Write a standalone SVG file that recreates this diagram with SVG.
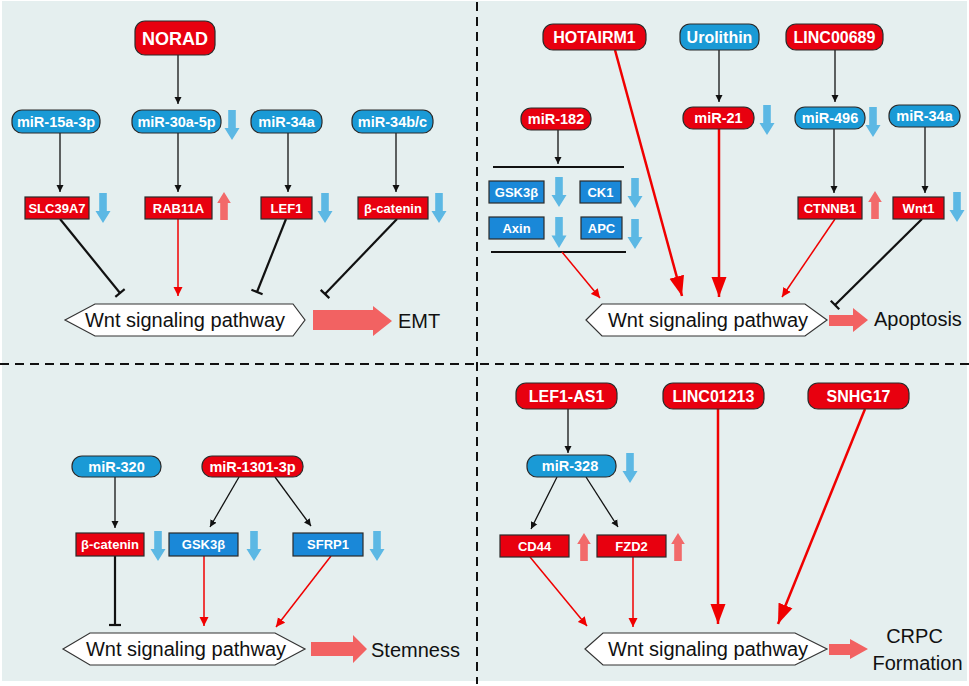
<svg xmlns="http://www.w3.org/2000/svg" width="969" height="686" viewBox="0 0 969 686">
<style>
text{font-family:"Liberation Sans",Arial,sans-serif}
.lb{font-weight:bold;fill:#fff;text-anchor:middle}
.f18{font-size:18px}.f16{font-size:16px}.f14{font-size:14.5px}.f13{font-size:13px}
.red{fill:#e8000f;stroke:#2a2a2a;stroke-width:1.2}
.blu{fill:#1a9ad6;stroke:#2a2a2a;stroke-width:1.2}
.bbox{fill:#1a88d8;stroke:#2a2a2a;stroke-width:1.2}
.hex{fill:#fff;stroke:#333;stroke-width:1.2}
.wnt{font-size:20px;fill:#111;text-anchor:middle}
.out{font-size:20px;fill:#111}
.pk{fill:#f26262}
.ind-d{fill:#5cb8e4}
.ind-u{fill:#f26a6a}
.kb{stroke:#111;stroke-width:1.3;fill:none}
.kt{stroke:#111;stroke-width:2.2;fill:none}
.rt{stroke:#f00000;stroke-width:1.5;fill:none}
.rk{stroke:#f00000;stroke-width:2.5;fill:none}
.dash{stroke:#111;stroke-width:2;stroke-dasharray:9,6;fill:none}
</style>
<defs>
<marker id="ab" markerUnits="userSpaceOnUse" markerWidth="8" markerHeight="8" refX="7" refY="4" orient="auto"><path d="M0,0.5 L7,4 L0,7.5 Z" fill="#111"/></marker>
<marker id="ar" markerUnits="userSpaceOnUse" markerWidth="10" markerHeight="10" refX="9" refY="5" orient="auto"><path d="M0,0.5 L9,5 L0,9.5 Z" fill="#f00000"/></marker>
<marker id="arb" markerUnits="userSpaceOnUse" markerWidth="21" markerHeight="16" refX="20" refY="8" orient="auto"><path d="M0,0.5 L20,8 L0,15.5 Z" fill="#f00000"/></marker>
<marker id="tb" markerUnits="userSpaceOnUse" markerWidth="4" markerHeight="14" refX="2" refY="7" orient="auto"><path d="M2,1 V13" stroke="#111" stroke-width="2.2"/></marker>
<path id="dn" d="M-3.8,0 H3.8 V18 H7.5 L0,30 L-7.5,18 H-3.8 Z"/>
<path id="up" d="M-3.8,28 H3.8 V11 H6.8 L0,0 L-6.8,11 H-3.8 Z"/>
</defs>

<rect x="2" y="1" width="965" height="680" fill="#e5efef"/>
<g id="dividers">
<line class="dash" x1="477" y1="2" x2="477" y2="684"/>
<line class="dash" x1="0" y1="364" x2="969" y2="364"/>
</g>

<g id="connectors">
<!-- Q1 -->
<line class="kb" x1="178" y1="55" x2="178" y2="104" marker-end="url(#ab)"/>
<line class="kb" x1="60" y1="133" x2="60" y2="192" marker-end="url(#ab)"/>
<line class="kb" x1="178" y1="133" x2="178" y2="192" marker-end="url(#ab)"/>
<line class="kb" x1="288" y1="133" x2="288" y2="192" marker-end="url(#ab)"/>
<line class="kb" x1="396" y1="133" x2="396" y2="192" marker-end="url(#ab)"/>
<line class="kt" x1="60" y1="219" x2="120" y2="293" marker-end="url(#tb)"/>
<line class="rt" x1="178" y1="219" x2="178" y2="296" marker-end="url(#ar)"/>
<line class="kt" x1="286" y1="219" x2="257" y2="292" marker-end="url(#tb)"/>
<line class="kt" x1="397" y1="219" x2="325" y2="294" marker-end="url(#tb)"/>
<!-- Q2 -->
<line class="kb" x1="719" y1="50" x2="719" y2="102" marker-end="url(#ab)"/>
<line class="kb" x1="835" y1="50" x2="835" y2="102" marker-end="url(#ab)"/>
<line class="kb" x1="558" y1="130" x2="558" y2="164" marker-end="url(#ab)"/>
<line class="kt" x1="493" y1="167" x2="624" y2="167"/>
<line class="kt" x1="491" y1="252" x2="626" y2="252"/>
<line class="rk" x1="615" y1="50" x2="682" y2="296" marker-end="url(#arb)"/>
<line class="rk" x1="719" y1="128" x2="719" y2="297" marker-end="url(#arb)"/>
<line class="rt" x1="562" y1="252" x2="600" y2="298" marker-end="url(#ar)"/>
<line class="kb" x1="834" y1="128" x2="834" y2="193" marker-end="url(#ab)"/>
<line class="kb" x1="925" y1="127" x2="925" y2="193" marker-end="url(#ab)"/>
<line class="rt" x1="835" y1="219" x2="782" y2="297" marker-end="url(#ar)"/>
<line class="kt" x1="922" y1="219" x2="835" y2="305" marker-end="url(#tb)"/>
<!-- Q3 -->
<line class="kb" x1="115" y1="477" x2="115" y2="528" marker-end="url(#ab)"/>
<line class="kb" x1="239" y1="477" x2="210" y2="527" marker-end="url(#ab)"/>
<line class="kb" x1="275" y1="477" x2="311" y2="526" marker-end="url(#ab)"/>
<line class="kt" x1="115" y1="556" x2="115" y2="625" marker-end="url(#tb)"/>
<line class="rt" x1="204" y1="556" x2="204" y2="626" marker-end="url(#ar)"/>
<line class="rt" x1="331" y1="556" x2="276" y2="627" marker-end="url(#ar)"/>
<!-- Q4 -->
<line class="kb" x1="568" y1="409" x2="568" y2="453" marker-end="url(#ab)"/>
<line class="kb" x1="557" y1="477" x2="531" y2="529" marker-end="url(#ab)"/>
<line class="kb" x1="586" y1="477" x2="618" y2="527" marker-end="url(#ab)"/>
<line class="rt" x1="530" y1="557" x2="587" y2="626" marker-end="url(#ar)"/>
<line class="rt" x1="633" y1="557" x2="633" y2="627" marker-end="url(#ar)"/>
<line class="rk" x1="718" y1="409" x2="718" y2="624" marker-end="url(#arb)"/>
<line class="rk" x1="865" y1="409" x2="778" y2="624" marker-end="url(#arb)"/>
</g>

<!-- Quadrant 1 nodes -->
<g id="NORAD"><rect class="red" x="135" y="21" width="80" height="34" rx="10"/><text class="lb f18" x="175" y="44.5">NORAD</text></g>
<g id="miR-15a-3p"><rect class="blu" x="12" y="110" width="88" height="23" rx="10"/><text class="lb f14" x="56" y="126.5">miR-15a-3p</text></g>
<g id="miR-30a-5p"><rect class="blu" x="132" y="110" width="89" height="23" rx="10"/><text class="lb f14" x="176.5" y="126.5">miR-30a-5p</text></g>
<g id="miR-34a-q1"><rect class="blu" x="251" y="110" width="71" height="23" rx="10"/><text class="lb f14" x="286.5" y="126.5">miR-34a</text></g>
<g id="miR-34bc"><rect class="blu" x="352" y="110" width="81" height="23" rx="10"/><text class="lb f14" x="392.5" y="126.5">miR-34b/c</text></g>
<g id="SLC39A7"><rect class="red" x="25" y="197" width="64" height="22"/><text class="lb f13" x="57" y="212.6">SLC39A7</text></g>
<g id="RAB11A"><rect class="red" x="145" y="197" width="67" height="22"/><text class="lb f13" x="178.5" y="212.6">RAB11A</text></g>
<g id="LEF1"><rect class="red" x="261" y="197" width="51" height="22"/><text class="lb f13" x="286.5" y="212.6">LEF1</text></g>
<g id="b-catenin-q1"><rect class="red" x="358" y="197" width="70" height="22"/><text class="lb f13" x="393" y="212.6">β-catenin</text></g>
<g id="wnt-q1"><polygon class="hex" points="65,320 95,304 293,304 305,320 293,336 95,336"/><text class="wnt" x="185" y="327">Wnt signaling pathway</text></g>
<g id="EMT"><polygon class="pk" points="313,310 373,310 373,306 392,321 373,336 373,330 313,330"/><text class="out" x="398" y="328">EMT</text></g>
<g id="ind-q1">
<use href="#dn" class="ind-d" transform="translate(232,110)"/>
<use href="#dn" class="ind-d" transform="translate(103,193)"/>
<use href="#up" class="ind-u" transform="translate(224,192)"/>
<use href="#dn" class="ind-d" transform="translate(325,193)"/>
<use href="#dn" class="ind-d" transform="translate(439,193)"/>
</g>

<!-- Quadrant 2 nodes -->
<g id="HOTAIRM1"><rect class="red" x="543" y="24" width="103" height="26" rx="10"/><text class="lb f16" x="594.5" y="42.6">HOTAIRM1</text></g>
<g id="Urolithin"><rect class="blu" x="680" y="24" width="79" height="26" rx="10"/><text class="lb f16" x="719.5" y="42.6">Urolithin</text></g>
<g id="LINC00689"><rect class="red" x="786" y="24" width="97" height="26" rx="10"/><text class="lb f16" x="834.5" y="42.6">LINC00689</text></g>
<g id="miR-182"><rect class="red" x="521" y="108" width="70" height="22" rx="10"/><text class="lb f14" x="556" y="124">miR-182</text></g>
<g id="miR-21"><rect class="red" x="683" y="107" width="71" height="22" rx="10"/><text class="lb f14" x="718.5" y="123">miR-21</text></g>
<g id="miR-496"><rect class="blu" x="795" y="107" width="70" height="22" rx="10"/><text class="lb f14" x="830" y="123">miR-496</text></g>
<g id="miR-34a-q2"><rect class="blu" x="889" y="105" width="71" height="22" rx="10"/><text class="lb f14" x="924.5" y="121">miR-34a</text></g>
<g id="GSK3b-q2"><rect class="bbox" x="489" y="181" width="55" height="22"/><text class="lb f13" x="516.5" y="196.6">GSK3β</text></g>
<g id="CK1"><rect class="bbox" x="580" y="181" width="41" height="22"/><text class="lb f13" x="600.5" y="196.6">CK1</text></g>
<g id="Axin"><rect class="bbox" x="489" y="217" width="55" height="22"/><text class="lb f13" x="516.5" y="232.6">Axin</text></g>
<g id="APC"><rect class="bbox" x="581" y="217" width="41" height="22"/><text class="lb f13" x="601.5" y="232.6">APC</text></g>
<g id="CTNNB1"><rect class="red" x="798" y="197" width="64" height="22"/><text class="lb f13" x="830" y="212.6">CTNNB1</text></g>
<g id="Wnt1"><rect class="red" x="893" y="197" width="51" height="22"/><text class="lb f13" x="918.5" y="212.6">Wnt1</text></g>
<g id="wnt-q2"><polygon class="hex" points="586,320 602,304 805,304 827,320 805,336 602,336"/><text class="wnt" x="708" y="327">Wnt signaling pathway</text></g>
<g id="Apoptosis"><polygon class="pk" points="829,315 853,315 853,308 868,320 853,332 853,326 829,326"/><text class="out" x="874" y="326">Apoptosis</text></g>
<g id="ind-q2">
<use href="#dn" class="ind-d" transform="translate(559,177)"/>
<use href="#dn" class="ind-d" transform="translate(635,178)"/>
<use href="#dn" class="ind-d" transform="translate(559,217) scale(1,1.03)"/>
<use href="#dn" class="ind-d" transform="translate(635,219)"/>
<use href="#dn" class="ind-d" transform="translate(767,105)"/>
<use href="#dn" class="ind-d" transform="translate(873,107)"/>
<use href="#up" class="ind-u" transform="translate(875,191)"/>
<use href="#dn" class="ind-d" transform="translate(957,192)"/>
</g>

<!-- Quadrant 3 nodes -->
<g id="miR-320"><rect class="blu" x="72" y="456" width="89" height="21" rx="10"/><text class="lb f14" x="116.5" y="471.5">miR-320</text></g>
<g id="miR-1301-3p"><rect class="red" x="202" y="456" width="101" height="21" rx="10"/><text class="lb f14" x="252.5" y="471.5">miR-1301-3p</text></g>
<g id="b-catenin-q3"><rect class="red" x="76" y="533" width="68" height="23"/><text class="lb f13" x="110" y="549">β-catenin</text></g>
<g id="GSK3b-q3"><rect class="bbox" x="169" y="533" width="69" height="23"/><text class="lb f13" x="203.5" y="549">GSK3β</text></g>
<g id="SFRP1"><rect class="bbox" x="293" y="533" width="70" height="23"/><text class="lb f13" x="328" y="549">SFRP1</text></g>
<g id="wnt-q3"><polygon class="hex" points="63,649 90,633 275,633 305,649 275,665 90,665"/><text class="wnt" x="186" y="656">Wnt signaling pathway</text></g>
<g id="Stemness"><polygon class="pk" points="311,642 353,642 353,635 367,649 353,663 353,656 311,656"/><text class="out" x="371" y="657">Stemness</text></g>
<g id="ind-q3">
<use href="#dn" class="ind-d" transform="translate(158,531)"/>
<use href="#dn" class="ind-d" transform="translate(254,531)"/>
<use href="#dn" class="ind-d" transform="translate(377,531)"/>
</g>

<!-- Quadrant 4 nodes -->
<g id="LEF1-AS1"><rect class="red" x="516" y="383" width="101" height="26" rx="10"/><text class="lb f16" x="566.5" y="401.6">LEF1-AS1</text></g>
<g id="LINC01213"><rect class="red" x="663" y="383" width="101" height="26" rx="10"/><text class="lb f16" x="713.5" y="401.6">LINC01213</text></g>
<g id="SNHG17"><rect class="red" x="808" y="383" width="101" height="26" rx="10"/><text class="lb f16" x="858.5" y="401.6">SNHG17</text></g>
<g id="miR-328"><rect class="blu" x="527" y="455" width="89" height="22" rx="10"/><text class="lb f14" x="570" y="471">miR-328</text></g>
<g id="CD44"><rect class="red" x="500" y="535" width="69" height="22"/><text class="lb f13" x="534.5" y="550.6">CD44</text></g>
<g id="FZD2"><rect class="red" x="597" y="535" width="69" height="22"/><text class="lb f13" x="631.5" y="550.6">FZD2</text></g>
<g id="wnt-q4"><polygon class="hex" points="585,649 603,633 795,633 827,649 795,665 603,665"/><text class="wnt" x="708" y="656">Wnt signaling pathway</text></g>
<g id="CRPC"><polygon class="pk" points="829,644 850,644 850,639 868,649 850,659 850,655 829,655"/><text class="out" x="914.5" y="643" text-anchor="middle">CRPC</text><text class="out" x="917.5" y="670" text-anchor="middle">Formation</text></g>
<g id="ind-q4">
<use href="#dn" class="ind-d" transform="translate(630,453)"/>
<use href="#up" class="ind-u" transform="translate(584,533)"/>
<use href="#up" class="ind-u" transform="translate(678,533)"/>
</g>
</svg>
